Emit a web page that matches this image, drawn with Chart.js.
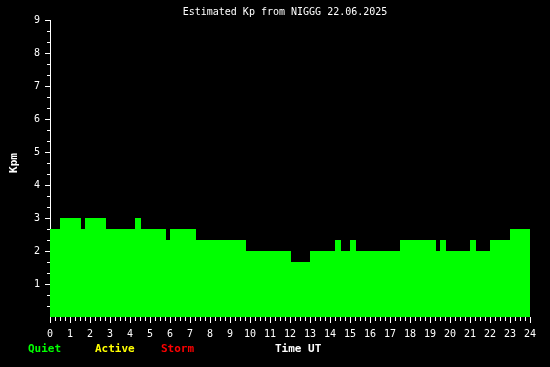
<!DOCTYPE html>
<html>
<head>
<meta charset="utf-8">
<script src="https://cdn.jsdelivr.net/npm/chart.js@4"></script>
<style>
  html, body { margin:0; padding:0; background:#000; }
  #wrap { width:550px; height:367px; position:relative; }
</style>
</head>
<body>
<div id="wrap"><canvas id="chart-kp"></canvas></div>
<script>
// ─── DATA ─────────────────────────────────────────────────────────────────────
// start of each step (hours UT) and Kp value held from there
const segStart = [0, 0.5, 1.55, 1.75, 2.8, 4.25, 4.55, 5.8, 6.0, 7.3, 9.8, 12.05, 13.0,
                  14.25, 14.55, 15.0, 15.3, 17.5, 19.3, 19.5, 19.8, 21.0, 21.3, 22.0, 23.0, 24.05];
const segKp    = [2.67, 3, 2.67, 3, 2.67, 3, 2.67, 2.33, 2.67, 2.33, 2, 1.67, 2,
                  2.33, 2, 2.33, 2, 2.33, 2, 2.33, 2, 2.33, 2, 2.33, 2.67, 2.67];
const xTicks = [...Array(25).keys()];            // 0..24 hours
const yTicks = [1, 2, 3, 4, 5, 6, 7, 8, 9];
const legendItems = [['Quiet', '#00ff00'], ['Active', '#ffff00'], ['Storm', '#ff0000']];

const FONT = '"DejaVu Sans Mono", "Liberation Mono", monospace';

// ─── EXTRA DRAWING (minor ticks, title, labels) ───────────────────────────────
const kpExtras = {
  id: 'kpExtras',
  afterDraw(chart) {
    const { ctx, chartArea, scales: { x, y } } = chart;
    ctx.save();
    ctx.strokeStyle = '#fff';
    ctx.lineWidth = 1;
    ctx.beginPath();
    // x minor ticks every 15 min
    for (let h = 0; h < 24; h++) {
      for (let q = 1; q < 4; q++) {
        const px = Math.round(x.getPixelForValue(h + q / 4)) + 0.5;
        ctx.moveTo(px, chartArea.bottom);
        ctx.lineTo(px, chartArea.bottom + 4);
      }
    }
    // y minor ticks every 1/3
    for (let k = 0; k < 9; k++) {
      for (let t = 1; t < 3; t++) {
        const py = Math.round(y.getPixelForValue(k + t / 3)) + 0.5;
        ctx.moveTo(chartArea.left - 3, py);
        ctx.lineTo(chartArea.left, py);
      }
    }
    ctx.stroke();

    // title
    ctx.fillStyle = '#fff';
    ctx.font = '10px ' + FONT;
    ctx.textAlign = 'center';
    ctx.textBaseline = 'middle';
    ctx.fillText('Estimated Kp from NIGGG 22.06.2025', 285, 12);

    // legend row
    ctx.font = 'bold 11px ' + FONT;
    ctx.textAlign = 'left';
    const lx = [28, 95, 161];
    legendItems.forEach(([txt, col], i) => { ctx.fillStyle = col; ctx.fillText(txt, lx[i], 349); });
    ctx.fillStyle = '#fff';
    ctx.fillText('Time UT', 275, 349);

    // y axis title
    ctx.translate(14, 163);
    ctx.rotate(-Math.PI / 2);
    ctx.textAlign = 'center';
    ctx.fillText('Kpm', 0, 0);
    ctx.restore();
  }
};

// ─── CHART ────────────────────────────────────────────────────────────────────
const points = segStart.map((t, i) => ({ x: t, y: segKp[i] }));

new Chart(document.getElementById('chart-kp').getContext('2d'), {
  type: 'line',
  data: {
    datasets: [{
      data: points,
      stepped: true,
      fill: 'origin',
      backgroundColor: '#00ff00',
      borderColor: 'rgba(0,0,0,0)',
      borderWidth: 0,
      pointRadius: 0,
      clip: { left: 0, top: 0, right: 2, bottom: 0 }
    }]
  },
  options: {
    responsive: true, maintainAspectRatio: false, animation: false,
    layout: { padding: { top: 20, right: 20, left: 0, bottom: 0 } },
    plugins: { legend: { display: false }, tooltip: { enabled: false } },
    scales: {
      x: {
        type: 'linear', min: 0, max: 24,
        afterFit: s => { s.height = 50; },
        afterBuildTicks: s => { s.ticks = xTicks.map(v => ({ value: v })); },
        ticks: { color: '#fff', font: { family: FONT, size: 10 }, padding: 5, maxRotation: 0, autoSkip: false },
        grid: { drawOnChartArea: false, drawTicks: true, tickLength: 6, tickColor: '#fff', tickWidth: 1 },
        border: { display: false }
      },
      y: {
        min: 0, max: 9,
        afterFit: s => { s.width = 50; },
        afterBuildTicks: s => { s.ticks = [0, ...yTicks].map(v => ({ value: v })); },
        ticks: { color: '#fff', font: { family: FONT, size: 10 }, padding: 5,
                 callback: v => v === 0 ? '' : v },
        grid: { drawOnChartArea: false, drawTicks: true, tickLength: 5, tickWidth: 1,
                tickColor: c => c.tick && c.tick.value === 0 ? 'rgba(0,0,0,0)' : '#fff' },
        border: { display: true, color: '#fff', width: 1 }
      }
    }
  },
  plugins: [kpExtras]
});
</script>
</body>
</html>
